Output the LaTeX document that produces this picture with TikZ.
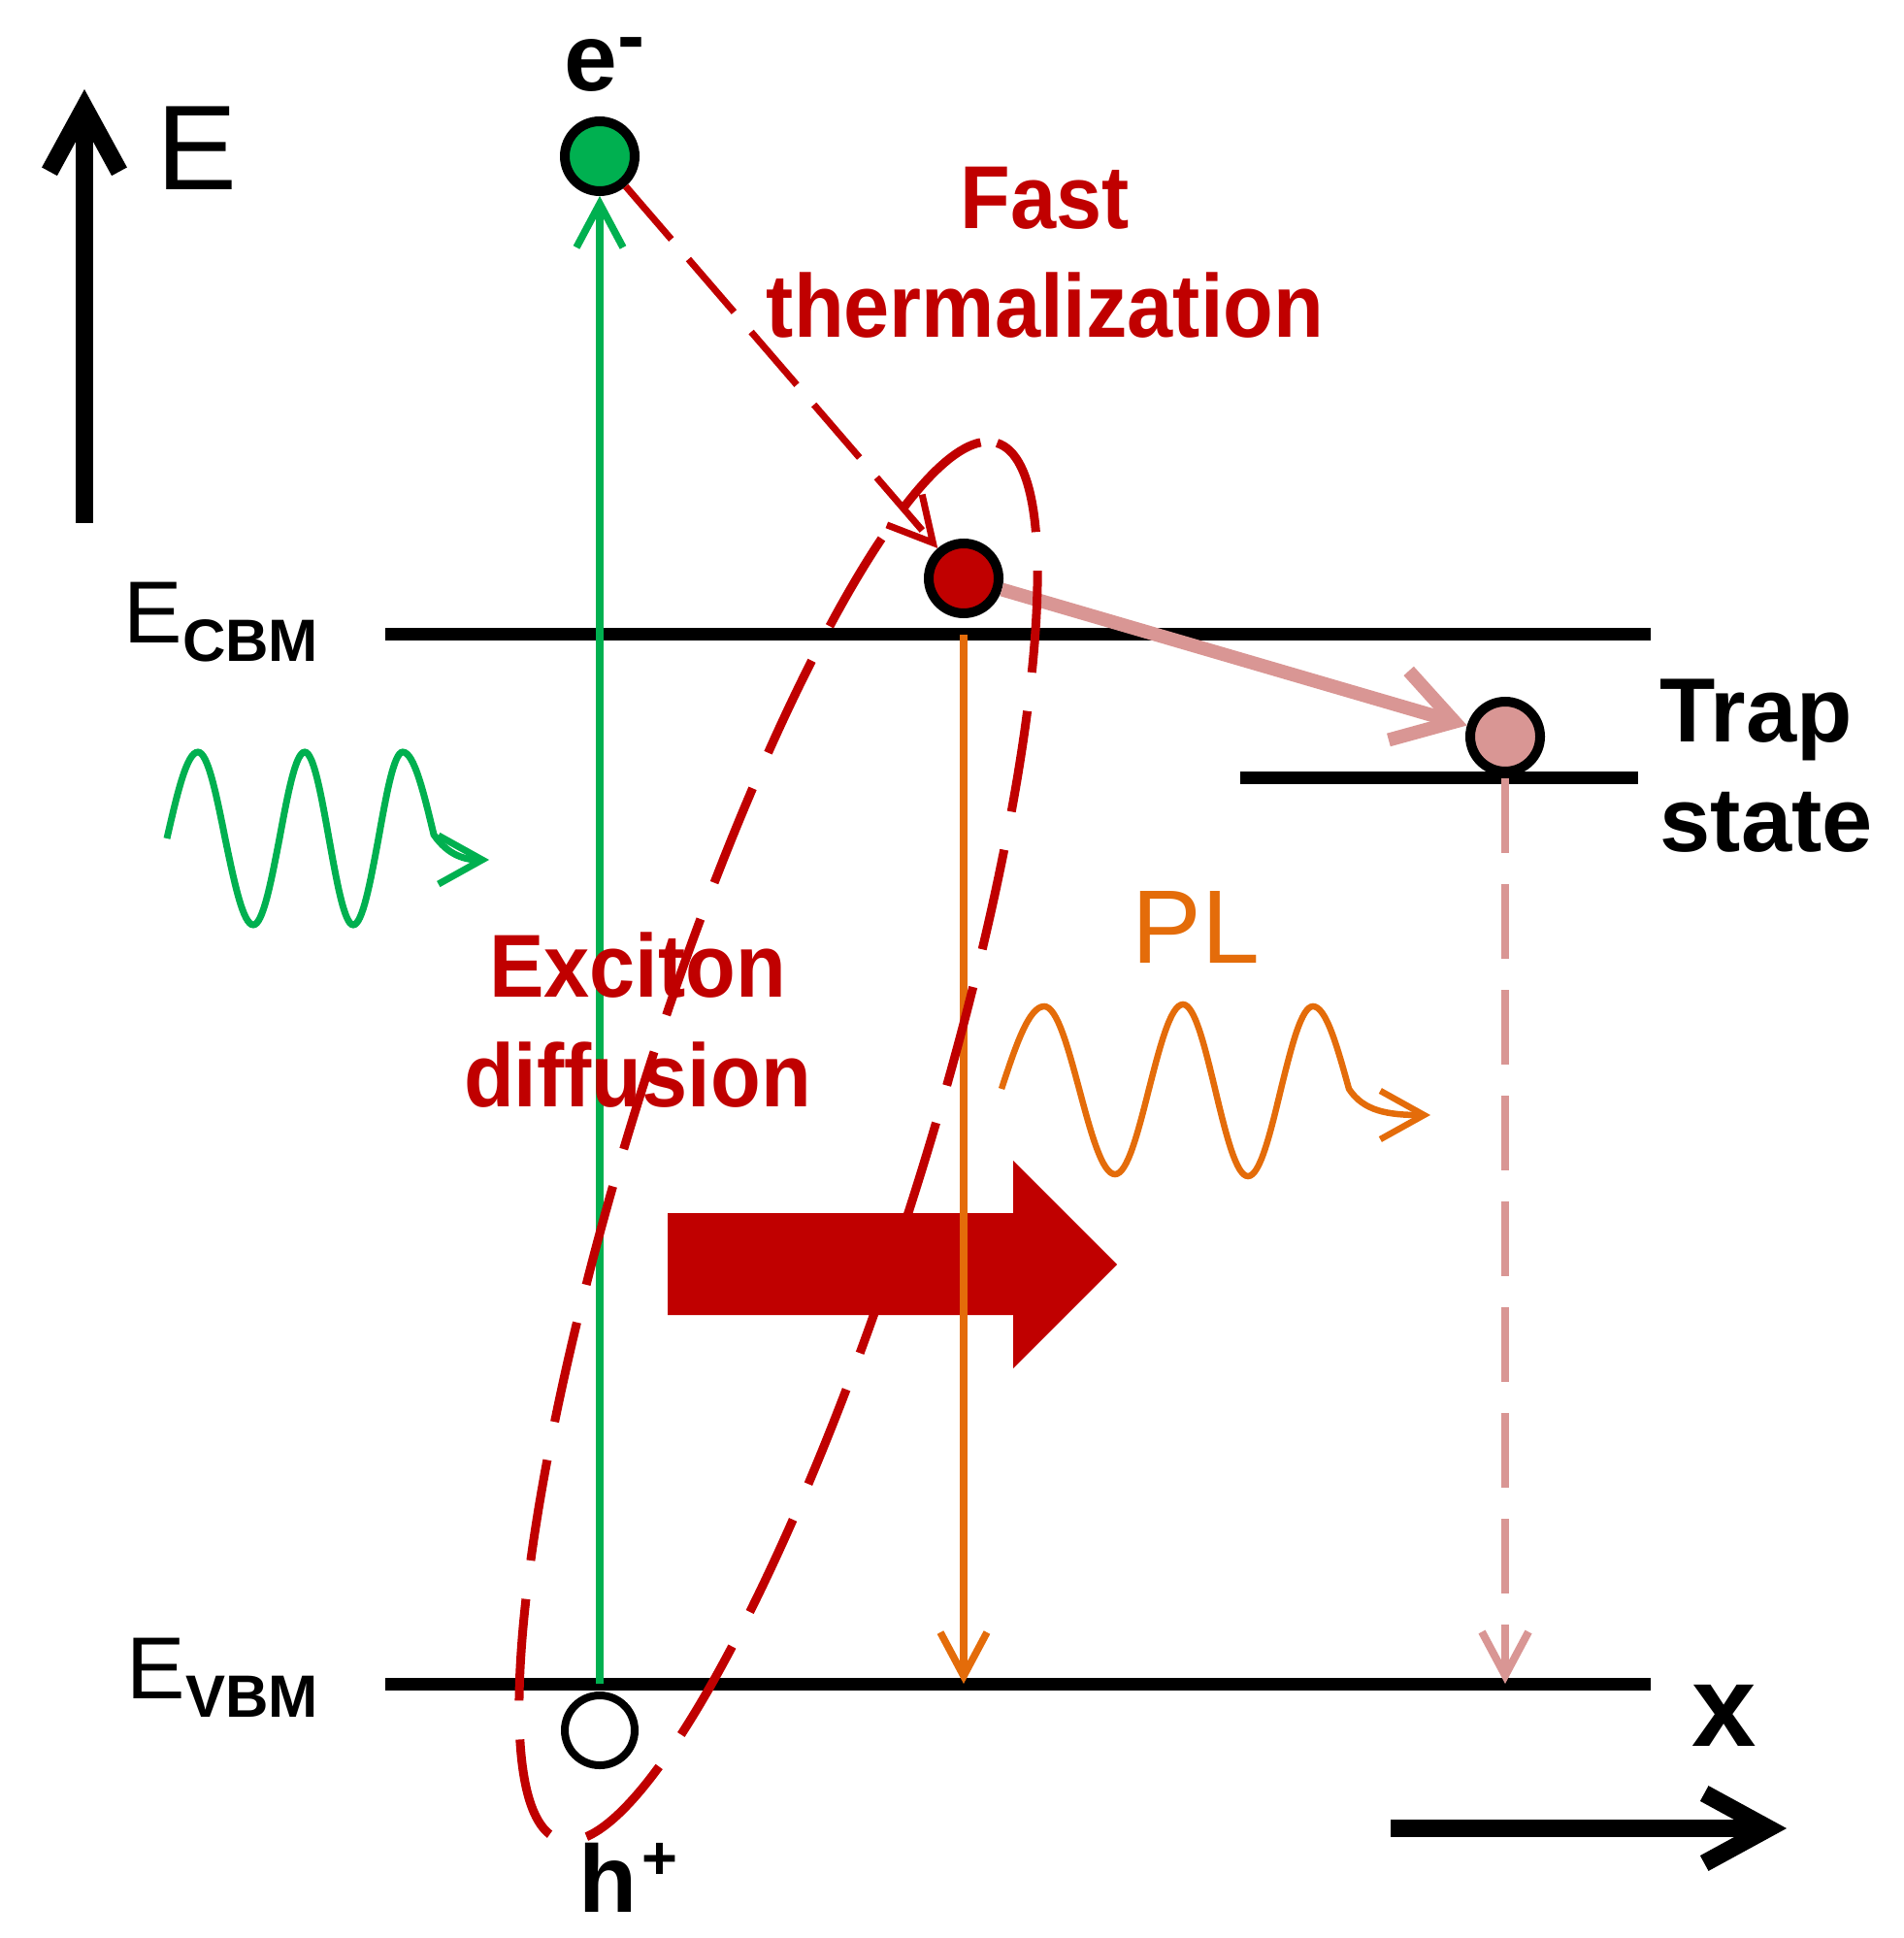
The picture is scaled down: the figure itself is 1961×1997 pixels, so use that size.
\documentclass[tikz,border=0pt]{standalone}
\usepackage{fontspec}
\setmainfont{Liberation Sans}
\newfontfamily\tightfont[FakeStretch=0.92]{Liberation Sans}
\usepackage{tikz}
\usetikzlibrary{positioning,arrows.meta}

\definecolor{exred}{HTML}{C00000}
\definecolor{exgreen}{HTML}{00B050}
\definecolor{plorange}{HTML}{E46C0A}
\definecolor{trappink}{HTML}{D99694}

\tikzset{
  level/.style={line width=1.3mm, black},
  particle/.style={circle, draw=black, line width=1mm, minimum size=7.2mm, inner sep=0pt},
  axis/.style={line width=1.8mm, -{Straight Barb[length=6.6mm, width=7.2mm]}},
  thin arrow/.style={line width=0.75mm, -{Straight Barb[length=4.5mm, width=4.8mm]}},
  wave/.style={line width=0.7mm, -{Straight Barb[length=4.5mm, width=5mm]}},
  exciton/.style={exred, line width=0.9mm, dash pattern=on 10.5mm off 4mm},
  lbl/.style={inner sep=0pt},
  redlbl/.style={lbl, exred, align=center, font=\tightfont\bfseries\fontsize{26.2}{32}\selectfont}
}

\begin{document}
\begin{tikzpicture}[x=0.1mm, y=-0.1mm]
        \useasboundingbox (0,0) rectangle (1961,1997);

        % band levels
        \coordinate (cbmL) at (397,654);
        \coordinate (cbmR) at (1701,654);
        \coordinate (vbmL) at (397,1735);
        \coordinate (vbmR) at (1701,1735);
        \coordinate (trapL) at (1278,802);
        \coordinate (trapR) at (1688,802);
        \draw[level] (cbmL) -- (cbmR);
        \draw[level] (vbmL) -- (vbmR);
        \draw[level] (trapL) -- (trapR);

        % axes
        \coordinate (Ebot) at (87,539);
        \coordinate (Etop) at (87,92);
        \coordinate (xL) at (1433,1884);
        \coordinate (xR) at (1841,1884);
        \draw[axis] (Ebot) -- (Etop);
        \draw[axis] (xL) -- (xR);

        % carriers
        \node[particle, fill=exgreen] (elec) at (618,161) {};
        \node[particle, fill=exred] (relax) at (993,596) {};
        \node[particle, fill=trappink] (trap) at (1551,759) {};
        \node[particle, fill=white, line width=0.8mm] (hole) at (618,1783) {};

        % diffusion arrow
        \fill[exred] (688,1250) -- (1044,1250) -- (1044,1196) -- (1151,1303) -- (1044,1410) -- (1044,1355) -- (688,1355) -- cycle;

        % transitions
        \draw[thin arrow, exgreen] (hole.north |- vbmL) -- (elec);
        \draw[thin arrow, exred, line width=0.7mm, dash pattern=on 7.2mm off 2.7mm] (elec) -- (relax);
        \draw[thin arrow, plorange] (relax.south |- cbmL) -- (relax.south |- vbmL);
        \draw[thin arrow, trappink, line width=0.8mm, dash pattern=on 7.7mm off 3.2mm] (trap.south |- trapL) -- (trap.south |- vbmL);
        \draw[trappink, line width=1.4mm, -{Straight Barb[length=6mm, width=7.4mm]}] (relax) -- (trap);

        % exciton
        \draw[exciton, rotate around={72.6:(802,1176)}] (802,1176) ellipse [x radius=754, y radius=150];

        % photons
        \draw[wave, exgreen] (172,864) sin (204,775) cos (232,864) sin (261,953) cos (288,864) sin (314,775) cos (339,864) sin (364,953) cos (390,864) sin (415,775) cos (447,860) .. controls (462,882) and (480,886) .. (504,886);
        \draw[wave, plorange, line width=0.65mm] (1032,1122) sin (1076,1037) cos (1112,1122) sin (1149,1210) cos (1184,1122) sin (1219,1035) cos (1252,1122) sin (1286,1212) cos (1320,1122) sin (1353,1037) cos (1390,1122) .. controls (1405,1145) and (1430,1149) .. (1474,1149);

        % labels
        \node[lbl, anchor=base west, font=\fontsize{35.4}{40}\selectfont] (Elbl) at (161,196) {E};
        \node[lbl, anchor=base west, font=\fontsize{25.8}{30}\selectfont] (cbmlbl) at (127,663) {E\raisebox{-1.9mm}{\fontsize{17.5}{20}\selectfont\bfseries CBM}};
        \node[lbl, anchor=base west, font=\fontsize{25.8}{30}\selectfont] (vbmlbl) at (130,1750) {E\raisebox{-1.9mm}{\fontsize{17.5}{20}\selectfont\bfseries VBM}};
        \node[lbl, anchor=base west, font=\fontsize{28}{30}\selectfont\bfseries] (elbl) at (581,94) {e\raisebox{8pt}{\fontsize{24}{24}\selectfont -}};
        \node[lbl, anchor=base west, font=\fontsize{28}{30}\selectfont\bfseries] (hlbl) at (596,1970) {h\kern0.5mm\raisebox{9.6pt}{\fontsize{18}{18}\selectfont +}};
        \node[redlbl, anchor=base] (thermlbl) at (1077,348) {Fast\\thermalization};
        \node[redlbl, anchor=base] (exclbl) at (657,1140) {Exciton\\diffusion};
        \node[lbl, anchor=base west, align=left, font=\bfseries\fontsize{26.7}{31.9}\selectfont] (traplbl) at (1710,877) {Trap\\state};
        \node[lbl, anchor=base west, plorange, font=\fontsize{30.6}{34}\selectfont] (pllbl) at (1166,992) {PL};
        \node[lbl, anchor=base west, font=\bfseries\fontsize{34}{36}\selectfont] (xlbl) at (1743,1799) {x};
\end{tikzpicture}
\end{document}
